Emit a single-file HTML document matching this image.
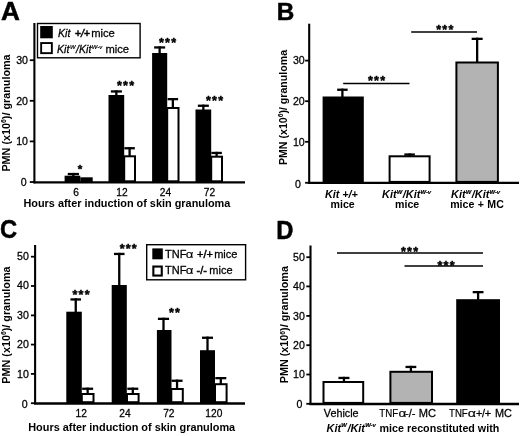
<!DOCTYPE html>
<html><head><meta charset="utf-8"><title>Figure</title>
<style>
html,body{margin:0;padding:0;background:#fff;}
body{width:520px;height:436px;overflow:hidden;font-family:"Liberation Sans",sans-serif;}
svg{display:block;font-family:"Liberation Sans",sans-serif;fill:#000;will-change:transform;-webkit-font-smoothing:antialiased;}
</style></head><body>
<svg width="520" height="436" viewBox="0 0 520 436">
<rect x="0" y="0" width="520" height="436" fill="#fff"/>
<text transform="translate(1.1,20.4) scale(1.035,1)" font-size="25.3" font-weight="bold" stroke="#000" stroke-width="0.5" stroke-linejoin="round">A</text>
<line x1="34.40" y1="23.00" x2="34.40" y2="183.30" stroke="#000" stroke-width="2.1"/>
<line x1="29.80" y1="60.20" x2="34.40" y2="60.20" stroke="#000" stroke-width="1.8"/>
<text x="28.00" y="64.00" font-size="10.6" font-weight="normal" font-style="normal" text-anchor="end"  stroke="#000" stroke-width="0.26">30</text>
<line x1="29.80" y1="100.80" x2="34.40" y2="100.80" stroke="#000" stroke-width="1.8"/>
<text x="28.00" y="104.60" font-size="10.6" font-weight="normal" font-style="normal" text-anchor="end"  stroke="#000" stroke-width="0.26">20</text>
<line x1="29.80" y1="141.40" x2="34.40" y2="141.40" stroke="#000" stroke-width="1.8"/>
<text x="28.00" y="145.20" font-size="10.6" font-weight="normal" font-style="normal" text-anchor="end"  stroke="#000" stroke-width="0.26">10</text>
<line x1="29.80" y1="182.00" x2="34.40" y2="182.00" stroke="#000" stroke-width="1.8"/>
<text x="26.70" y="185.80" font-size="10.6" font-weight="normal" font-style="normal" text-anchor="end"  stroke="#000" stroke-width="0.26">0</text>
<line x1="33.40" y1="182.30" x2="245.00" y2="182.30" stroke="#000" stroke-width="2.3"/>
<text transform="translate(9.7,113) rotate(-90)" font-size="10.8" font-weight="bold" text-anchor="middle">PMN (x10<tspan font-size="6.8" dy="-3.6">6</tspan><tspan dy="3.6">)/ granuloma</tspan></text>
<rect x="37.50" y="23.50" width="102.60" height="34.30" fill="#fff" stroke="#000" stroke-width="1.4"/>
<rect x="40.20" y="26.00" width="12.60" height="12.30" fill="#000"/>
<rect x="41.15" y="43.05" width="10.70" height="10.10" fill="#fff" stroke="#000" stroke-width="1.9"/>
<text x="58.00" y="37.00" font-size="10.6" font-weight="normal" font-style="normal" text-anchor="start"  stroke="#000" stroke-width="0.26"><tspan font-style="italic">Kit </tspan><tspan font-style="italic" stroke-width="0.5" dx="1.4">+/+</tspan></text>
<text x="91.20" y="37.00" font-size="11.2" font-weight="normal" font-style="normal" text-anchor="start"  stroke="#000" stroke-width="0.26">mice</text>
<text x="57.00" y="52.50" font-size="10.6" font-weight="normal" font-style="normal" text-anchor="start"  stroke="#000" stroke-width="0.26"><tspan font-style="italic">Kit</tspan><tspan font-style="italic" font-size="5.9" dy="-4.0" dx="0.5" stroke="#000" stroke-width="0.2">W</tspan><tspan font-style="italic" dy="4.0" dx="0.6">/Kit</tspan><tspan font-style="italic" font-size="5.9" dy="-4.0" dx="0.5" stroke="#000" stroke-width="0.2">W-v</tspan></text>
<text x="105.40" y="52.50" font-size="11.2" font-weight="normal" font-style="normal" text-anchor="start"  stroke="#000" stroke-width="0.26">mice</text>
<line x1="73.35" y1="172.90" x2="73.35" y2="176.70" stroke="#000" stroke-width="2.3"/>
<line x1="67.75" y1="174.05" x2="78.95" y2="174.05" stroke="#000" stroke-width="2.3"/>
<rect x="64.60" y="175.70" width="15.70" height="6.60" fill="#000"/>
<rect x="80.30" y="177.30" width="12.40" height="5.00" fill="#000"/>
<line x1="116.35" y1="90.30" x2="116.35" y2="96.00" stroke="#000" stroke-width="2.3"/>
<line x1="110.85" y1="91.45" x2="121.85" y2="91.45" stroke="#000" stroke-width="2.3"/>
<rect x="108.50" y="95.00" width="15.70" height="87.30" fill="#000"/>
<line x1="129.60" y1="147.10" x2="129.60" y2="156.30" stroke="#000" stroke-width="2.3"/>
<line x1="124.35" y1="148.25" x2="134.85" y2="148.25" stroke="#000" stroke-width="2.3"/>
<rect x="124.20" y="156.30" width="10.80" height="25.00" fill="#fff" stroke="#000" stroke-width="2.0"/>
<line x1="159.65" y1="46.30" x2="159.65" y2="54.00" stroke="#000" stroke-width="2.3"/>
<line x1="154.15" y1="47.45" x2="165.15" y2="47.45" stroke="#000" stroke-width="2.3"/>
<rect x="152.10" y="53.00" width="15.10" height="129.30" fill="#000"/>
<line x1="172.85" y1="98.00" x2="172.85" y2="108.00" stroke="#000" stroke-width="2.3"/>
<line x1="167.60" y1="99.15" x2="178.10" y2="99.15" stroke="#000" stroke-width="2.3"/>
<rect x="167.20" y="108.00" width="11.30" height="73.30" fill="#fff" stroke="#000" stroke-width="2.0"/>
<line x1="203.35" y1="104.60" x2="203.35" y2="110.50" stroke="#000" stroke-width="2.3"/>
<line x1="197.85" y1="105.75" x2="208.85" y2="105.75" stroke="#000" stroke-width="2.3"/>
<rect x="195.50" y="109.50" width="15.70" height="72.80" fill="#000"/>
<line x1="216.60" y1="151.80" x2="216.60" y2="156.70" stroke="#000" stroke-width="2.3"/>
<line x1="211.35" y1="152.95" x2="221.85" y2="152.95" stroke="#000" stroke-width="2.3"/>
<rect x="211.20" y="156.70" width="10.80" height="24.60" fill="#fff" stroke="#000" stroke-width="2.0"/>
<text x="80.60" y="173.00" font-size="11.6" font-weight="bold" font-style="normal" text-anchor="middle" letter-spacing="1.2" stroke="#000" stroke-width="0.45" stroke-linejoin="round">*</text>
<text x="126.10" y="90.10" font-size="12.6" font-weight="bold" font-style="normal" text-anchor="middle" letter-spacing="1.2" stroke="#000" stroke-width="0.45" stroke-linejoin="round">***</text>
<text x="168.10" y="46.50" font-size="12.6" font-weight="bold" font-style="normal" text-anchor="middle" letter-spacing="1.2" stroke="#000" stroke-width="0.45" stroke-linejoin="round">***</text>
<text x="215.10" y="105.00" font-size="12.6" font-weight="bold" font-style="normal" text-anchor="middle" letter-spacing="1.2" stroke="#000" stroke-width="0.45" stroke-linejoin="round">***</text>
<text x="76.00" y="195.50" font-size="10.2" font-weight="normal" font-style="normal" text-anchor="middle"  stroke="#000" stroke-width="0.26">6</text>
<text x="122.00" y="195.50" font-size="10.2" font-weight="normal" font-style="normal" text-anchor="middle"  stroke="#000" stroke-width="0.26">12</text>
<text x="165.50" y="195.50" font-size="10.2" font-weight="normal" font-style="normal" text-anchor="middle"  stroke="#000" stroke-width="0.26">24</text>
<text x="209.50" y="195.50" font-size="10.2" font-weight="normal" font-style="normal" text-anchor="middle"  stroke="#000" stroke-width="0.26">72</text>
<text x="126.90" y="207.30" font-size="10.9" font-weight="bold" font-style="normal" text-anchor="middle" >Hours after induction of skin granuloma</text>
<text transform="translate(276.7,20.4) scale(0.985,1)" font-size="24.7" font-weight="bold" stroke="#000" stroke-width="0.5" stroke-linejoin="round">B</text>
<line x1="309.20" y1="23.70" x2="309.20" y2="183.90" stroke="#000" stroke-width="2.1"/>
<line x1="305.10" y1="60.60" x2="309.20" y2="60.60" stroke="#000" stroke-width="1.8"/>
<text x="304.70" y="64.40" font-size="10.6" font-weight="normal" font-style="normal" text-anchor="end"  stroke="#000" stroke-width="0.26">30</text>
<line x1="305.10" y1="101.20" x2="309.20" y2="101.20" stroke="#000" stroke-width="1.8"/>
<text x="304.70" y="105.00" font-size="10.6" font-weight="normal" font-style="normal" text-anchor="end"  stroke="#000" stroke-width="0.26">20</text>
<line x1="305.10" y1="141.80" x2="309.20" y2="141.80" stroke="#000" stroke-width="1.8"/>
<text x="304.70" y="145.60" font-size="10.6" font-weight="normal" font-style="normal" text-anchor="end"  stroke="#000" stroke-width="0.26">10</text>
<line x1="305.10" y1="182.80" x2="309.20" y2="182.80" stroke="#000" stroke-width="1.8"/>
<text x="300.90" y="187.90" font-size="10.6" font-weight="normal" font-style="normal" text-anchor="end"  stroke="#000" stroke-width="0.26">0</text>
<line x1="308.20" y1="182.90" x2="519.00" y2="182.90" stroke="#000" stroke-width="2.3"/>
<text transform="translate(287,107.5) rotate(-90)" font-size="10.6" font-weight="bold" text-anchor="middle">PMN (x10<tspan font-size="6.8" dy="-3.6">6</tspan><tspan dy="3.6">)/ granuloma</tspan></text>
<line x1="342.40" y1="88.60" x2="342.40" y2="97.50" stroke="#000" stroke-width="2.3"/>
<line x1="337.15" y1="89.75" x2="347.65" y2="89.75" stroke="#000" stroke-width="2.3"/>
<rect x="322.60" y="96.50" width="41.20" height="86.40" fill="#000"/>
<line x1="409.60" y1="153.40" x2="409.60" y2="156.30" stroke="#000" stroke-width="2.3"/>
<line x1="404.35" y1="154.55" x2="414.85" y2="154.55" stroke="#000" stroke-width="2.3"/>
<rect x="389.60" y="156.30" width="40.00" height="25.60" fill="#fff" stroke="#000" stroke-width="2.0"/>
<line x1="477.15" y1="37.70" x2="477.15" y2="62.50" stroke="#000" stroke-width="2.3"/>
<line x1="471.65" y1="38.85" x2="482.65" y2="38.85" stroke="#000" stroke-width="2.3"/>
<rect x="456.40" y="62.50" width="41.50" height="119.40" fill="#b3b3b3" stroke="#000" stroke-width="2.0"/>
<line x1="343.20" y1="83.40" x2="409.50" y2="83.40" stroke="#000" stroke-width="1.5"/>
<line x1="411.20" y1="32.10" x2="477.00" y2="32.10" stroke="#000" stroke-width="1.5"/>
<text x="377.10" y="85.00" font-size="12.6" font-weight="bold" font-style="normal" text-anchor="middle" letter-spacing="1.2" stroke="#000" stroke-width="0.45" stroke-linejoin="round">***</text>
<text x="445.40" y="34.00" font-size="12.6" font-weight="bold" font-style="normal" text-anchor="middle" letter-spacing="1.2" stroke="#000" stroke-width="0.45" stroke-linejoin="round">***</text>
<text x="341.40" y="198.00" font-size="10.8" font-weight="bold" font-style="italic" text-anchor="middle" >Kit +/+</text>
<text x="342.60" y="207.70" font-size="10.6" font-weight="bold" font-style="normal" text-anchor="middle" >mice</text>
<text x="406.60" y="198.00" font-size="10.9" font-weight="bold" font-style="normal" text-anchor="middle" ><tspan font-style="italic">Kit</tspan><tspan font-style="italic" font-size="5.9" dy="-4.2" dx="0.2" stroke="#000" stroke-width="0.2">W</tspan><tspan font-style="italic" dy="4.2" dx="0.5">/Kit</tspan><tspan font-style="italic" font-size="5.9" dy="-4.2" dx="0.2" stroke="#000" stroke-width="0.2">W-v</tspan></text>
<text x="407.20" y="207.70" font-size="10.6" font-weight="bold" font-style="normal" text-anchor="middle" >mice</text>
<text x="475.60" y="198.00" font-size="10.9" font-weight="bold" font-style="normal" text-anchor="middle" ><tspan font-style="italic">Kit</tspan><tspan font-style="italic" font-size="5.9" dy="-4.2" dx="0.2" stroke="#000" stroke-width="0.2">W</tspan><tspan font-style="italic" dy="4.2" dx="0.5">/Kit</tspan><tspan font-style="italic" font-size="5.9" dy="-4.2" dx="0.2" stroke="#000" stroke-width="0.2">W-v</tspan></text>
<text x="477.00" y="207.70" font-size="10.6" font-weight="bold" font-style="normal" text-anchor="middle" word-spacing="0.5">mice + MC</text>
<text transform="translate(-0.1,238.1) scale(0.92,1)" font-size="25.8" font-weight="bold" stroke="#000" stroke-width="0.5" stroke-linejoin="round">C</text>
<line x1="35.10" y1="245.00" x2="35.10" y2="404.20" stroke="#000" stroke-width="2.1"/>
<line x1="30.95" y1="256.70" x2="35.10" y2="256.70" stroke="#000" stroke-width="1.8"/>
<text x="28.90" y="259.90" font-size="10.6" font-weight="normal" font-style="normal" text-anchor="end"  stroke="#000" stroke-width="0.26">50</text>
<line x1="30.95" y1="286.00" x2="35.10" y2="286.00" stroke="#000" stroke-width="1.8"/>
<text x="28.90" y="289.42" font-size="10.6" font-weight="normal" font-style="normal" text-anchor="end"  stroke="#000" stroke-width="0.26">40</text>
<line x1="30.95" y1="315.40" x2="35.10" y2="315.40" stroke="#000" stroke-width="1.8"/>
<text x="28.90" y="319.04" font-size="10.6" font-weight="normal" font-style="normal" text-anchor="end"  stroke="#000" stroke-width="0.26">30</text>
<line x1="30.95" y1="344.60" x2="35.10" y2="344.60" stroke="#000" stroke-width="1.8"/>
<text x="28.90" y="348.46" font-size="10.6" font-weight="normal" font-style="normal" text-anchor="end"  stroke="#000" stroke-width="0.26">20</text>
<line x1="30.95" y1="373.90" x2="35.10" y2="373.90" stroke="#000" stroke-width="1.8"/>
<text x="28.90" y="377.98" font-size="10.6" font-weight="normal" font-style="normal" text-anchor="end"  stroke="#000" stroke-width="0.26">10</text>
<line x1="30.95" y1="403.20" x2="35.10" y2="403.20" stroke="#000" stroke-width="1.8"/>
<text x="27.70" y="407.50" font-size="10.6" font-weight="normal" font-style="normal" text-anchor="end"  stroke="#000" stroke-width="0.26">0</text>
<line x1="34.10" y1="403.50" x2="245.00" y2="403.50" stroke="#000" stroke-width="2.5"/>
<text transform="translate(10,325.1) rotate(-90)" font-size="10.8" font-weight="bold" text-anchor="middle">PMN (x10<tspan font-size="6.8" dy="-3.6">6</tspan><tspan dy="3.6">)/ granuloma</tspan></text>
<rect x="146.70" y="244.70" width="98.90" height="35.10" fill="#fff" stroke="#000" stroke-width="1.4"/>
<rect x="152.30" y="248.40" width="10.50" height="10.90" fill="#000"/>
<rect x="153.35" y="266.55" width="8.40" height="9.00" fill="#fff" stroke="#000" stroke-width="2.1"/>
<text x="165.00" y="258.20" font-size="11" font-weight="normal" font-style="normal" text-anchor="start"  stroke="#000" stroke-width="0.26">TNF</text>
<text transform="translate(185.7,258.2) scale(1.2,1)" font-size="11" stroke="#000" stroke-width="0.15">&#945;</text>
<text x="197.00" y="258.20" font-size="11" font-weight="normal" font-style="normal" text-anchor="start" stroke-width="0.45" stroke="#000">+/+</text>
<text x="214.20" y="258.20" font-size="11" font-weight="normal" font-style="normal" text-anchor="start"  stroke="#000" stroke-width="0.26">mice</text>
<text x="165.00" y="274.20" font-size="11" font-weight="normal" font-style="normal" text-anchor="start"  stroke="#000" stroke-width="0.26">TNF</text>
<text transform="translate(185.7,274.2) scale(1.2,1)" font-size="11" stroke="#000" stroke-width="0.15">&#945;</text>
<text x="196.50" y="274.20" font-size="11" font-weight="normal" font-style="normal" text-anchor="start" stroke-width="0.45" stroke="#000">-/-</text>
<text x="209.30" y="274.20" font-size="11" font-weight="normal" font-style="normal" text-anchor="start"  stroke="#000" stroke-width="0.26">mice</text>
<line x1="75.75" y1="298.30" x2="75.75" y2="312.70" stroke="#000" stroke-width="2.3"/>
<line x1="70.45" y1="299.45" x2="81.05" y2="299.45" stroke="#000" stroke-width="2.3"/>
<rect x="66.30" y="311.70" width="15.50" height="91.50" fill="#000"/>
<line x1="87.65" y1="387.60" x2="87.65" y2="394.00" stroke="#000" stroke-width="2.3"/>
<line x1="82.15" y1="388.75" x2="93.15" y2="388.75" stroke="#000" stroke-width="2.3"/>
<rect x="81.80" y="394.00" width="11.70" height="8.20" fill="#fff" stroke="#000" stroke-width="2.0"/>
<line x1="119.25" y1="252.80" x2="119.25" y2="286.00" stroke="#000" stroke-width="2.3"/>
<line x1="113.95" y1="253.95" x2="124.55" y2="253.95" stroke="#000" stroke-width="2.3"/>
<rect x="111.70" y="285.00" width="15.10" height="118.20" fill="#000"/>
<line x1="132.80" y1="387.60" x2="132.80" y2="394.00" stroke="#000" stroke-width="2.3"/>
<line x1="127.30" y1="388.75" x2="138.30" y2="388.75" stroke="#000" stroke-width="2.3"/>
<rect x="127.00" y="394.00" width="11.60" height="8.20" fill="#fff" stroke="#000" stroke-width="2.0"/>
<line x1="163.50" y1="317.70" x2="163.50" y2="331.00" stroke="#000" stroke-width="2.3"/>
<line x1="157.90" y1="318.85" x2="169.10" y2="318.85" stroke="#000" stroke-width="2.3"/>
<rect x="156.90" y="330.00" width="14.60" height="73.20" fill="#000"/>
<line x1="177.05" y1="379.60" x2="177.05" y2="389.00" stroke="#000" stroke-width="2.3"/>
<line x1="171.55" y1="380.75" x2="182.55" y2="380.75" stroke="#000" stroke-width="2.3"/>
<rect x="171.30" y="389.00" width="11.50" height="13.20" fill="#fff" stroke="#000" stroke-width="2.0"/>
<line x1="207.50" y1="336.60" x2="207.50" y2="351.20" stroke="#000" stroke-width="2.3"/>
<line x1="202.00" y1="337.75" x2="213.00" y2="337.75" stroke="#000" stroke-width="2.3"/>
<rect x="200.00" y="350.20" width="15.00" height="53.00" fill="#000"/>
<line x1="220.80" y1="377.00" x2="220.80" y2="384.20" stroke="#000" stroke-width="2.3"/>
<line x1="215.30" y1="378.15" x2="226.30" y2="378.15" stroke="#000" stroke-width="2.3"/>
<rect x="215.00" y="384.20" width="11.60" height="18.00" fill="#fff" stroke="#000" stroke-width="2.0"/>
<text x="81.60" y="298.60" font-size="12.6" font-weight="bold" font-style="normal" text-anchor="middle" letter-spacing="1.2" stroke="#000" stroke-width="0.45" stroke-linejoin="round">***</text>
<text x="128.80" y="252.50" font-size="12.6" font-weight="bold" font-style="normal" text-anchor="middle" letter-spacing="1.2" stroke="#000" stroke-width="0.45" stroke-linejoin="round">***</text>
<text x="175.00" y="317.30" font-size="12.6" font-weight="bold" font-style="normal" text-anchor="middle" letter-spacing="1.2" stroke="#000" stroke-width="0.45" stroke-linejoin="round">**</text>
<text x="81.20" y="416.90" font-size="10.2" font-weight="normal" font-style="normal" text-anchor="middle"  stroke="#000" stroke-width="0.26">12</text>
<text x="125.00" y="416.90" font-size="10.2" font-weight="normal" font-style="normal" text-anchor="middle"  stroke="#000" stroke-width="0.26">24</text>
<text x="168.80" y="416.90" font-size="10.2" font-weight="normal" font-style="normal" text-anchor="middle"  stroke="#000" stroke-width="0.26">72</text>
<text x="213.80" y="416.90" font-size="10.2" font-weight="normal" font-style="normal" text-anchor="middle"  stroke="#000" stroke-width="0.26">120</text>
<text x="131.70" y="431.40" font-size="10.9" font-weight="bold" font-style="normal" text-anchor="middle" >Hours after induction of skin granuloma</text>
<text transform="translate(276.2,239.0) scale(0.94,1)" font-size="25.3" font-weight="bold" stroke="#000" stroke-width="0.5" stroke-linejoin="round">D</text>
<line x1="310.50" y1="245.50" x2="310.50" y2="404.90" stroke="#000" stroke-width="2.1"/>
<line x1="306.30" y1="257.20" x2="310.50" y2="257.20" stroke="#000" stroke-width="1.8"/>
<text x="304.80" y="261.00" font-size="10.6" font-weight="normal" font-style="normal" text-anchor="end"  stroke="#000" stroke-width="0.26">50</text>
<line x1="306.30" y1="286.40" x2="310.50" y2="286.40" stroke="#000" stroke-width="1.8"/>
<text x="304.80" y="290.20" font-size="10.6" font-weight="normal" font-style="normal" text-anchor="end"  stroke="#000" stroke-width="0.26">40</text>
<line x1="306.30" y1="315.90" x2="310.50" y2="315.90" stroke="#000" stroke-width="1.8"/>
<text x="304.80" y="319.70" font-size="10.6" font-weight="normal" font-style="normal" text-anchor="end"  stroke="#000" stroke-width="0.26">30</text>
<line x1="306.30" y1="345.20" x2="310.50" y2="345.20" stroke="#000" stroke-width="1.8"/>
<text x="304.80" y="349.00" font-size="10.6" font-weight="normal" font-style="normal" text-anchor="end"  stroke="#000" stroke-width="0.26">20</text>
<line x1="306.30" y1="374.50" x2="310.50" y2="374.50" stroke="#000" stroke-width="1.8"/>
<text x="304.80" y="378.30" font-size="10.6" font-weight="normal" font-style="normal" text-anchor="end"  stroke="#000" stroke-width="0.26">10</text>
<line x1="306.30" y1="403.80" x2="310.50" y2="403.80" stroke="#000" stroke-width="1.8"/>
<text x="302.30" y="407.60" font-size="10.6" font-weight="normal" font-style="normal" text-anchor="end"  stroke="#000" stroke-width="0.26">0</text>
<line x1="309.50" y1="404.10" x2="519.00" y2="404.10" stroke="#000" stroke-width="2.5"/>
<text transform="translate(288.3,324.7) rotate(-90)" font-size="10.8" font-weight="bold" text-anchor="middle">PMN (x10<tspan font-size="6.8" dy="-3.6">6</tspan><tspan dy="3.6">)/ granuloma</tspan></text>
<line x1="343.95" y1="376.80" x2="343.95" y2="382.00" stroke="#000" stroke-width="2.3"/>
<line x1="338.45" y1="377.95" x2="349.45" y2="377.95" stroke="#000" stroke-width="2.3"/>
<rect x="323.50" y="382.00" width="39.70" height="20.90" fill="#fff" stroke="#000" stroke-width="2.0"/>
<line x1="410.90" y1="365.80" x2="410.90" y2="371.80" stroke="#000" stroke-width="2.3"/>
<line x1="405.50" y1="366.95" x2="416.30" y2="366.95" stroke="#000" stroke-width="2.3"/>
<rect x="390.40" y="371.80" width="41.60" height="31.10" fill="#b3b3b3" stroke="#000" stroke-width="2.0"/>
<line x1="478.10" y1="291.00" x2="478.10" y2="300.20" stroke="#000" stroke-width="2.3"/>
<line x1="472.70" y1="292.15" x2="483.50" y2="292.15" stroke="#000" stroke-width="2.3"/>
<rect x="456.20" y="299.20" width="43.80" height="104.70" fill="#000"/>
<line x1="337.00" y1="253.00" x2="483.00" y2="253.00" stroke="#000" stroke-width="1.5"/>
<line x1="404.50" y1="266.00" x2="483.00" y2="266.00" stroke="#000" stroke-width="1.5"/>
<text x="410.10" y="256.00" font-size="12.6" font-weight="bold" font-style="normal" text-anchor="middle" letter-spacing="1.2" stroke="#000" stroke-width="0.45" stroke-linejoin="round">***</text>
<text x="446.60" y="269.50" font-size="12.6" font-weight="bold" font-style="normal" text-anchor="middle" letter-spacing="1.2" stroke="#000" stroke-width="0.45" stroke-linejoin="round">***</text>
<text x="341.20" y="417.30" font-size="10.8" font-weight="normal" font-style="normal" text-anchor="middle"  stroke="#000" stroke-width="0.26">Vehicle</text>
<text transform="translate(379.3,417.3) scale(0.875,1)" font-size="11.1" stroke="#000" stroke-width="0.2">TNF</text>
<text transform="translate(398.5,417.3) scale(1.22,1)" font-size="11.1" stroke="#000" stroke-width="0.15">&#945;</text>
<text x="405.10" y="417.30" font-size="11.1" font-weight="normal" font-style="normal" text-anchor="start"  stroke="#000" stroke-width="0.26">-/- MC</text>
<text transform="translate(449.0,417.3) scale(0.885,1)" font-size="10.9" stroke="#000" stroke-width="0.2">TNF</text>
<text transform="translate(467.8,417.3) scale(1.3,1)" font-size="10.9" stroke="#000" stroke-width="0.15">&#945;</text>
<text x="475.90" y="417.30" font-size="10.9" font-weight="normal" font-style="normal" text-anchor="start" letter-spacing="-0.3" stroke="#000" stroke-width="0.26">+/+</text>
<text x="494.90" y="417.30" font-size="10.9" font-weight="normal" font-style="normal" text-anchor="start"  stroke="#000" stroke-width="0.26">MC</text>
<text x="326.60" y="431.50" font-size="10.9" font-weight="bold" font-style="normal" text-anchor="start" ><tspan font-style="italic">Kit</tspan><tspan font-style="italic" font-size="5.9" dy="-4.2" dx="0.2" stroke="#000" stroke-width="0.2">W</tspan><tspan font-style="italic" dy="4.2" dx="0.5">/Kit</tspan><tspan font-style="italic" font-size="5.9" dy="-4.2" dx="0.2" stroke="#000" stroke-width="0.2">W-v</tspan></text>
<text x="379.6" y="431.50" font-size="10.72" font-weight="bold">mice reconstituted with</text>
</svg>
</body></html>
